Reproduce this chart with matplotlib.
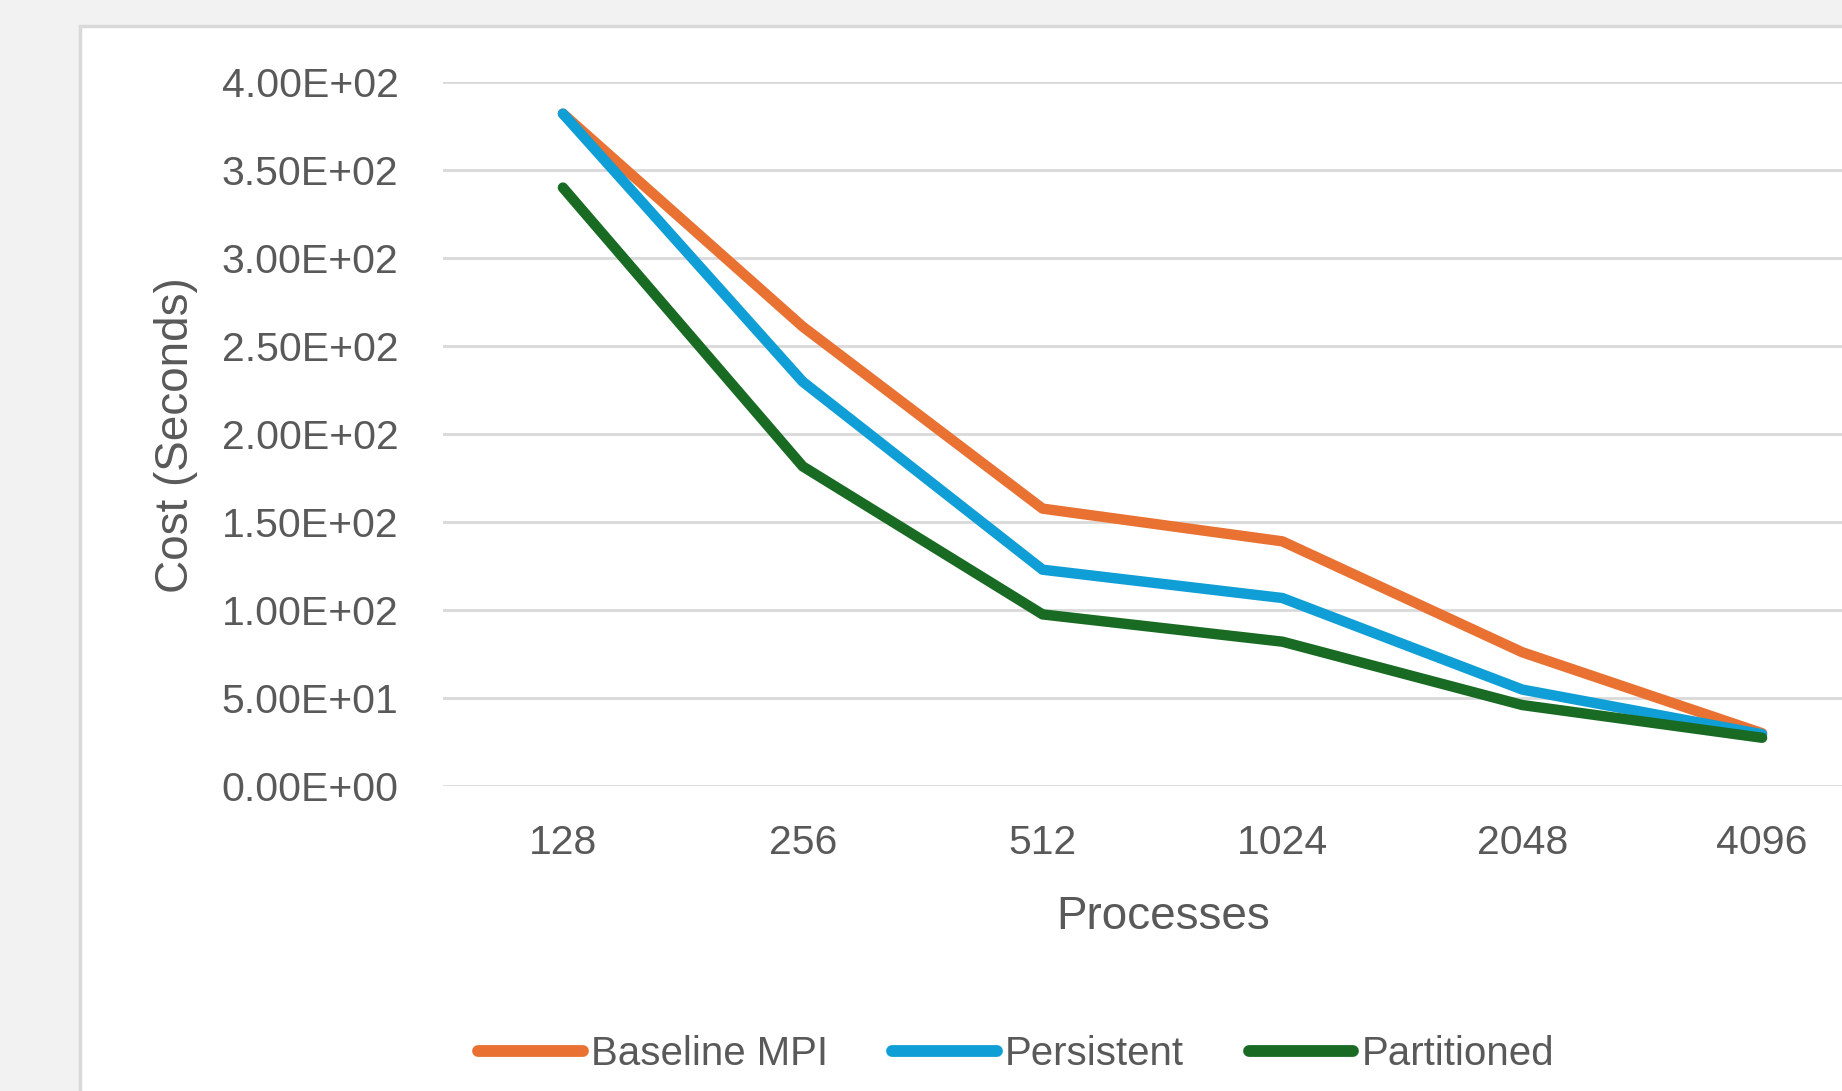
import matplotlib
matplotlib.use("Agg")
import matplotlib.pyplot as plt
from matplotlib.patches import Rectangle

# datos
procesos = ["128", "256", "512", "1024", "2048", "4096"]
baseline_mpi = [382, 261, 157.6, 139, 76, 30]
persistent = [382, 229.7, 122.9, 106.8, 54.8, 29.4]
partitioned = [340, 181.6, 97.5, 82, 46, 27.4]

colores = {"Baseline MPI": "#E97132", "Persistent": "#0F9ED5", "Partitioned": "#196B24"}
gris_texto = "#595959"

plt.rcParams["font.family"] = ["Liberation Sans", "DejaVu Sans"]

W, H = 1842, 1091
fig = plt.figure(figsize=(W / 100, H / 100), dpi=100, facecolor="#f2f2f2")

# area blanca del grafico con borde gris
fondo = Rectangle((80 / W, -0.1), 1.2, 1.1 - 26 / H, transform=fig.transFigure,
                  facecolor="white", edgecolor="#d9d9d9", linewidth=2.5, zorder=-5)
fig.add_artist(fondo)

ax_left, ax_right = 443 / W, 1882 / W
ax_top, ax_bottom = 1 - 82 / H, 1 - 786 / H
ax = fig.add_axes([ax_left, ax_bottom, ax_right - ax_left, ax_top - ax_bottom], zorder=2)
ax.set_facecolor("none")

x = list(range(len(procesos)))
for nombre, serie in [("Baseline MPI", baseline_mpi), ("Persistent", persistent), ("Partitioned", partitioned)]:
    ax.plot(x, serie, color=colores[nombre], linewidth=7.5, solid_capstyle="round",
            solid_joinstyle="round", label=nombre, zorder=3)

ax.set_xlim(-0.5, len(procesos) - 0.5)
ax.set_ylim(0, 400)
ax.set_yticks(range(0, 401, 50))
ax.set_yticklabels([f"{v:.2E}" for v in range(0, 401, 50)])
ax.set_xticks(x)
ax.set_xticklabels(procesos)
ax.grid(axis="y", color="#d9d9d9", linewidth=2)
ax.set_axisbelow(True)
for s in ax.spines.values():
    s.set_visible(False)
ax.tick_params(axis="both", length=0, labelsize=29.5, colors=gris_texto)
ax.tick_params(axis="y", pad=32)
ax.tick_params(axis="x", pad=27)

fig.text(1163 / W, 1 - 917 / H, "Processes", fontsize=33, color=gris_texto, ha="center", va="center")
fig.text(176 / W, 1 - 435 / H, "Cost (Seconds)", fontsize=33, color=gris_texto, ha="center",
         va="center", rotation=90)

leg = fig.legend(loc="center", bbox_to_anchor=(1016 / W, 1 - 1054 / H), ncol=3, frameon=False,
                 fontsize=29, handlelength=2.6, handletextpad=0.2, columnspacing=1.6)
for t in leg.get_texts():
    t.set_color(gris_texto)
for l in leg.get_lines():
    l.set_linewidth(8.5)

fig.savefig("out.png", dpi=100, facecolor=fig.get_facecolor())
